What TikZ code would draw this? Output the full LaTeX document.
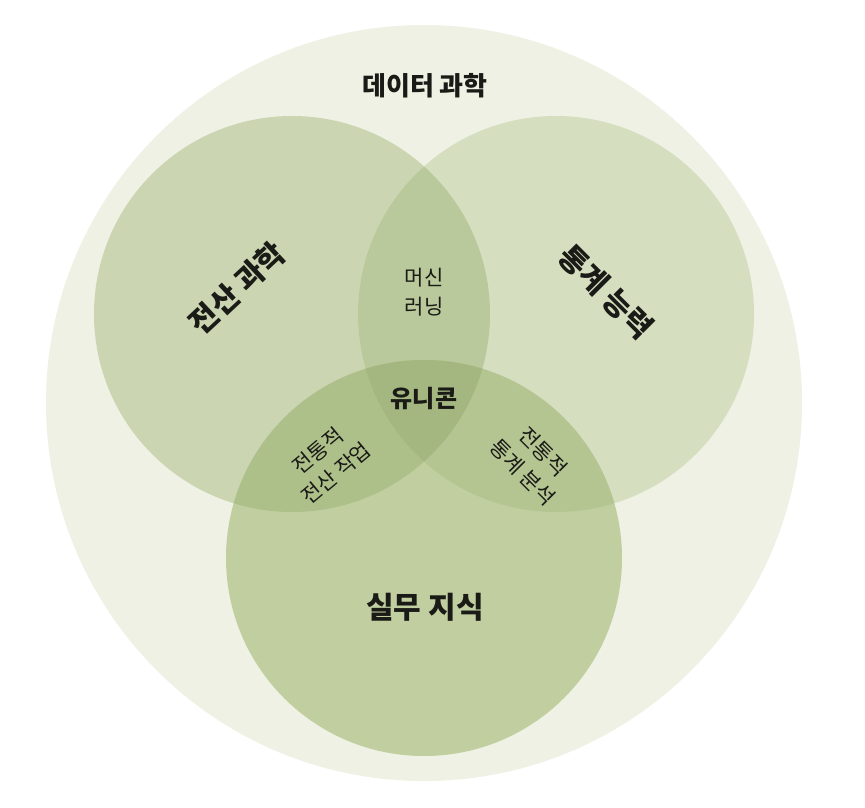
\documentclass[tikz,border=0pt]{standalone}
\usepackage{fontspec}
\newfontfamily\kr{Noto Sans CJK KR}
\definecolor{outerc}{RGB}{238,241,227}
\definecolor{ca}{RGB}{204,213,177}
\definecolor{cb}{RGB}{214,222,192}
\definecolor{cc}{RGB}{192,206,160}
\definecolor{cab}{RGB}{186,201,155}
\definecolor{cac}{RGB}{174,192,138}
\definecolor{cbc}{RGB}{180,197,146}
\definecolor{cabc}{RGB}{164,183,128}
\definecolor{ink}{RGB}{26,26,22}
\begin{document}
\begin{tikzpicture}[x=1pt,y=-1pt,
  lbl/.style={font=\kr\fontsize{21}{29}\selectfont, align=center, inner sep=0pt, text=ink},
  blbl/.style={font=\kr\bfseries\fontsize{26}{30}\selectfont, align=center, inner sep=0pt, text=ink},
  big/.style={font=\kr\bfseries\fontsize{30}{34}\selectfont, align=center, inner sep=0pt, text=ink}]
\useasboundingbox (0,0) rectangle (865,808);
\fill[white] (0,0) rectangle (865,808);
% outer circle
\fill[outerc] (424,403) circle[radius=378pt];
% three circles
\fill[ca] (292,314) circle[radius=198pt];
\fill[cb] (556,314) circle[radius=198pt];
\fill[cc] (424,558) circle[radius=198pt];
% pairwise intersections
\begin{scope}
  \clip (292,314) circle[radius=198pt];
  \fill[cab] (556,314) circle[radius=198pt];
  \fill[cac] (424,558) circle[radius=198pt];
\end{scope}
\begin{scope}
  \clip (556,314) circle[radius=198pt];
  \fill[cbc] (424,558) circle[radius=198pt];
\end{scope}
\begin{scope}
  \clip (292,314) circle[radius=198pt];
  \clip (556,314) circle[radius=198pt];
  \fill[cabc] (424,558) circle[radius=198pt];
\end{scope}
% labels
\node[blbl] (ds) at (425,86) {데이터 과학};
\node[big, rotate=43] (cs) at (237,288) {전산 과학};
\node[big, rotate=-45] (st) at (606,292) {통계 능력};
\node[lbl] (ml) at (424,292) {머신\\러닝};
\node[blbl, font=\kr\bfseries\fontsize{24}{28}\selectfont] (uni) at (424,398) {유니콘};
\node[lbl, rotate=40] (tcs) at (327,462) {전통적\\전산 작업};
\node[lbl, rotate=-45] (tst) at (533,462) {전통적\\통계 분석};
\node[big] (dk) at (425,607) {실무 지식};
\end{tikzpicture}
\end{document}
